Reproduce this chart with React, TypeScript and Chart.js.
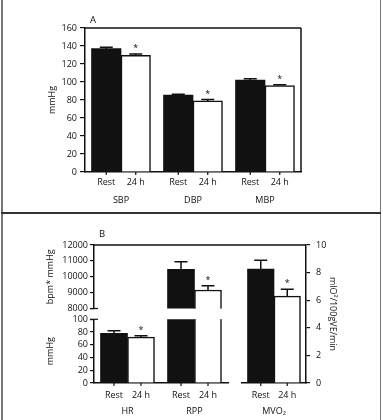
import React, { useEffect, useRef } from 'react';
import { Chart, registerables } from 'chart.js';

Chart.register(...registerables);

const W = 383;
const H = 420;
const FONT = '"Open Sans", "DejaVu Sans", sans-serif';
const INK = '#111';
const FONT_SIZE = 9;
const LINE_H = FONT_SIZE * 1.2;

// Group labels under each pair of bars
const conditions = ['Rest', '24 h'];

// Panel A – arterial pressure (mmHg)
const bpCategories = ['SBP', 'DBP', 'MBP'];
const bpRest = [137, 85.5, 102];
const bpRestSem = [1.5, 1, 1.5];
const bp24h = [129.5, 79, 96];
const bp24hSem = [1.5, 1.5, 1];
const bpSignificant = [true, true, true];
const bpAxis: [number, number, number] = [0, 160, 20];

// Panel B – heart rate and rate-pressure product on a broken left axis
const hemoCategories = ['HR', 'RPP'];
const hemoRest = [78, 10465];
const hemoRestSem = [4, 480];
const hemo24h = [72, 9165];
const hemo24hSem = [2, 270];
const hemoSignificant = [true, true];
const rppAxis: [number, number, number] = [8000, 12000, 1000];
const hrAxis: [number, number, number] = [0, 100, 20];

// Panel B – myocardial oxygen consumption on the right axis
const mvoCategories = ['MVO₂'];
const mvoRest = [8.25];
const mvoRestSem = [0.65];
const mvo24h = [6.3];
const mvo24hSem = [0.5];
const mvoSignificant = [true];
const mvoAxis: [number, number, number] = [0, 10, 2];

type Area = { left: number; right: number; top: number; bottom: number };

type Spec = {
  area: Area;
  labels: string[];
  rest: number[];
  restSem: number[];
  late: number[];
  lateSem: number[];
  significant: boolean[];
  range: [number, number, number];
  side: 'left' | 'right';
  axisWidth: number;
  title: string;
  titleX: number;
  tickLen: number;
  tickPad: number;
  barThickness: number;
  xAxis: null | { height: number; labelY: number; subLabelY: number };
  panel?: { text: string; x: number; y: number };
  frameTop?: [number, number];
  frameRight?: boolean;
  breakMark?: 'top' | 'bottom';
};

const AREA_A: Area = { left: 85, right: 301, top: 28, bottom: 172 };
const AREA_B_HIGH: Area = { left: 94, right: 228, top: 245, bottom: 308.5 };
const AREA_B_LOW: Area = { left: 94, right: 228, top: 319.3, bottom: 383 };
const AREA_B_MVO: Area = { left: 242, right: 306, top: 245, bottom: 383 };

const font = (size = FONT_SIZE) => ({ family: FONT, size, lineHeight: 1.2 });

function decorations(spec: Spec) {
  return {
    id: 'decorations',
    afterDatasetsDraw(chart: any) {
      const { ctx, chartArea: a } = chart;
      const yScale = chart.scales.y;
      const values = [spec.rest, spec.late];
      const sems = [spec.restSem, spec.lateSem];

      // error bars and significance marks, clipped to the plotting area
      ctx.save();
      ctx.beginPath();
      ctx.rect(a.left, a.top, a.right - a.left, a.bottom - a.top);
      ctx.clip();
      ctx.strokeStyle = INK;
      ctx.fillStyle = INK;
      ctx.lineWidth = 1.5;
      values.forEach((vals, d) => {
        const meta = chart.getDatasetMeta(d);
        meta.data.forEach((bar: any, i: number) => {
          const top = yScale.getPixelForValue(vals[i]);
          const cap = yScale.getPixelForValue(vals[i] + sems[d][i]);
          ctx.beginPath();
          ctx.moveTo(bar.x, top);
          ctx.lineTo(bar.x, cap);
          ctx.moveTo(bar.x - 6.5, cap);
          ctx.lineTo(bar.x + 6.5, cap);
          ctx.stroke();
          if (d === 1 && spec.significant[i]) {
            ctx.font = `${FONT_SIZE}px ${FONT}`;
            ctx.textAlign = 'center';
            ctx.textBaseline = 'alphabetic';
            ctx.fillText('*', bar.x, cap - 3);
          }
        });
      });
      ctx.restore();

      ctx.save();
      ctx.strokeStyle = INK;
      ctx.fillStyle = INK;
      ctx.lineWidth = 1.5;

      // condition labels and small ticks under each bar
      if (spec.xAxis) {
        const sub = spec.xAxis.subLabelY;
        ctx.font = `${FONT_SIZE}px ${FONT}`;
        ctx.textAlign = 'center';
        ctx.textBaseline = 'middle';
        values.forEach((_, d) => {
          chart.getDatasetMeta(d).data.forEach((bar: any) => {
            ctx.beginPath();
            ctx.lineWidth = 1.2;
            ctx.moveTo(bar.x, a.bottom);
            ctx.lineTo(bar.x, a.bottom + 3);
            ctx.stroke();
            ctx.fillText(conditions[d], bar.x, sub);
          });
        });
      }

      ctx.lineWidth = 1.5;
      if (spec.frameTop) {
        ctx.beginPath();
        ctx.moveTo(spec.frameTop[0], a.top);
        ctx.lineTo(spec.frameTop[1], a.top);
        ctx.stroke();
      }
      if (spec.frameRight) {
        ctx.beginPath();
        ctx.moveTo(a.right, a.top);
        ctx.lineTo(a.right, a.bottom);
        ctx.stroke();
      }
      if (spec.breakMark) {
        const y = spec.breakMark === 'top' ? a.top : a.bottom;
        ctx.lineWidth = 1.2;
        ctx.beginPath();
        ctx.moveTo(a.left - 4, y);
        ctx.lineTo(a.left + 4, y);
        ctx.stroke();
      }
      if (spec.panel) {
        ctx.font = `9.5px ${FONT}`;
        ctx.textAlign = 'center';
        ctx.textBaseline = 'middle';
        ctx.fillText(spec.panel.text, spec.panel.x, spec.panel.y);
      }
      ctx.restore();
    },
  };
}

function makeConfig(spec: Spec): any {
  const [min, max, step] = spec.range;
  const outer = spec.side === 'left' ? spec.area.left - spec.axisWidth : spec.area.right + spec.axisWidth;
  const titlePad = Math.abs(spec.titleX - outer) - LINE_H / 2;
  const xHeight = spec.xAxis ? spec.xAxis.height : 0;
  return {
    type: 'bar',
    data: {
      labels: spec.labels,
      datasets: [
        {
          label: conditions[0],
          data: spec.rest,
          backgroundColor: INK,
          borderWidth: 0,
          barThickness: spec.barThickness,
          clip: 0,
        },
        {
          label: conditions[1],
          data: spec.late,
          backgroundColor: '#fff',
          borderColor: INK,
          borderWidth: 1.5,
          barThickness: spec.barThickness,
          clip: 0,
        },
      ],
    },
    options: {
      responsive: false,
      animation: false,
      events: [],
      layout: {
        autoPadding: false,
        padding: {
          left: spec.side === 'left' ? outer : spec.area.left,
          right: spec.side === 'right' ? W - outer : W - spec.area.right,
          top: spec.area.top,
          bottom: H - spec.area.bottom - xHeight,
        },
      },
      plugins: {
        legend: { display: false },
        tooltip: { enabled: false },
        title: { display: false },
      },
      scales: {
        x: {
          display: !!spec.xAxis,
          grid: { display: false, drawTicks: false },
          border: { display: true, color: INK, width: 1.5 },
          ticks: {
            color: INK,
            font: font(),
            padding: spec.xAxis ? spec.xAxis.labelY - spec.area.bottom - LINE_H / 2 : 0,
            maxRotation: 0,
            autoSkip: false,
          },
          afterFit: (s: any) => {
            s.height = xHeight;
          },
        },
        y: {
          position: spec.side,
          min,
          max,
          ticks: {
            stepSize: step,
            padding: spec.tickPad,
            color: INK,
            font: font(),
            autoSkip: false,
            callback: (v: number | string) => String(v),
          },
          grid: { drawOnChartArea: false, tickLength: spec.tickLen, color: INK, lineWidth: 1.2 },
          border: { display: true, color: INK, width: 1.5 },
          title: {
            display: true,
            text: spec.title,
            color: INK,
            font: font(),
            padding: { top: titlePad, bottom: 0 },
          },
          afterFit: (s: any) => {
            s.width = spec.axisWidth;
          },
        },
      },
    },
    plugins: [decorations(spec)],
  };
}

const specA: Spec = {
  area: AREA_A,
  labels: bpCategories,
  rest: bpRest,
  restSem: bpRestSem,
  late: bp24h,
  lateSem: bp24hSem,
  significant: bpSignificant,
  range: bpAxis,
  side: 'left',
  axisWidth: 85,
  title: 'mmHg',
  titleX: 52,
  tickLen: 5,
  tickPad: 3,
  barThickness: 29.5,
  xAxis: { height: 40, labelY: 200, subLabelY: 182 },
  panel: { text: 'A', x: 93, y: 20 },
  frameTop: [AREA_A.left, AREA_A.right],
  frameRight: true,
};

const specBHigh: Spec = {
  area: AREA_B_HIGH,
  labels: hemoCategories,
  rest: hemoRest,
  restSem: hemoRestSem,
  late: hemo24h,
  lateSem: hemo24hSem,
  significant: hemoSignificant,
  range: rppAxis,
  side: 'left',
  axisWidth: 94,
  title: 'bpm* mmHg',
  titleX: 50,
  tickLen: 4,
  tickPad: 2,
  barThickness: 27,
  xAxis: null,
  panel: { text: 'B', x: 102, y: 234 },
  frameTop: [AREA_B_HIGH.left, AREA_B_MVO.right],
  breakMark: 'bottom',
};

const specBLow: Spec = {
  area: AREA_B_LOW,
  labels: hemoCategories,
  rest: hemoRest,
  restSem: hemoRestSem,
  late: hemo24h,
  lateSem: hemo24hSem,
  significant: hemoSignificant,
  range: hrAxis,
  side: 'left',
  axisWidth: 94,
  title: 'mmHg',
  titleX: 50,
  tickLen: 4,
  tickPad: 2,
  barThickness: 27,
  xAxis: { height: 37, labelY: 411.7, subLabelY: 395 },
  breakMark: 'top',
};

const specBMvo: Spec = {
  area: AREA_B_MVO,
  labels: mvoCategories,
  rest: mvoRest,
  restSem: mvoRestSem,
  late: mvo24h,
  lateSem: mvo24hSem,
  significant: mvoSignificant,
  range: mvoAxis,
  side: 'right',
  axisWidth: 40,
  title: 'mlO²/100gVE/min',
  titleX: 333,
  tickLen: 4,
  tickPad: 6,
  barThickness: 26.5,
  xAxis: { height: 37, labelY: 411.7, subLabelY: 395 },
};

function Layer({ spec }: { spec: Spec }) {
  const ref = useRef<HTMLCanvasElement>(null);
  useEffect(() => {
    const chart = new Chart(ref.current as HTMLCanvasElement, makeConfig(spec));
    return () => chart.destroy();
  }, [spec]);
  return (
    <canvas
      ref={ref}
      width={W}
      height={H}
      style={{ position: 'absolute', left: 0, top: 0, width: W, height: H }}
    />
  );
}

export default function App() {
  return (
    <div
      style={{
        position: 'fixed',
        left: 0,
        top: 0,
        width: W,
        height: H,
        background: '#fff',
        overflow: 'hidden',
      }}
    >
      <div style={{ position: 'absolute', left: 1, top: 0, width: 1.5, height: H, background: '#777' }} />
      <div style={{ position: 'absolute', left: 379.5, top: 0, width: 1.5, height: H, background: '#777' }} />
      <div style={{ position: 'absolute', left: 1, top: 212, width: 380, height: 2, background: '#333' }} />
      <Layer spec={specA} />
      <Layer spec={specBHigh} />
      <Layer spec={specBLow} />
      <Layer spec={specBMvo} />
    </div>
  );
}
